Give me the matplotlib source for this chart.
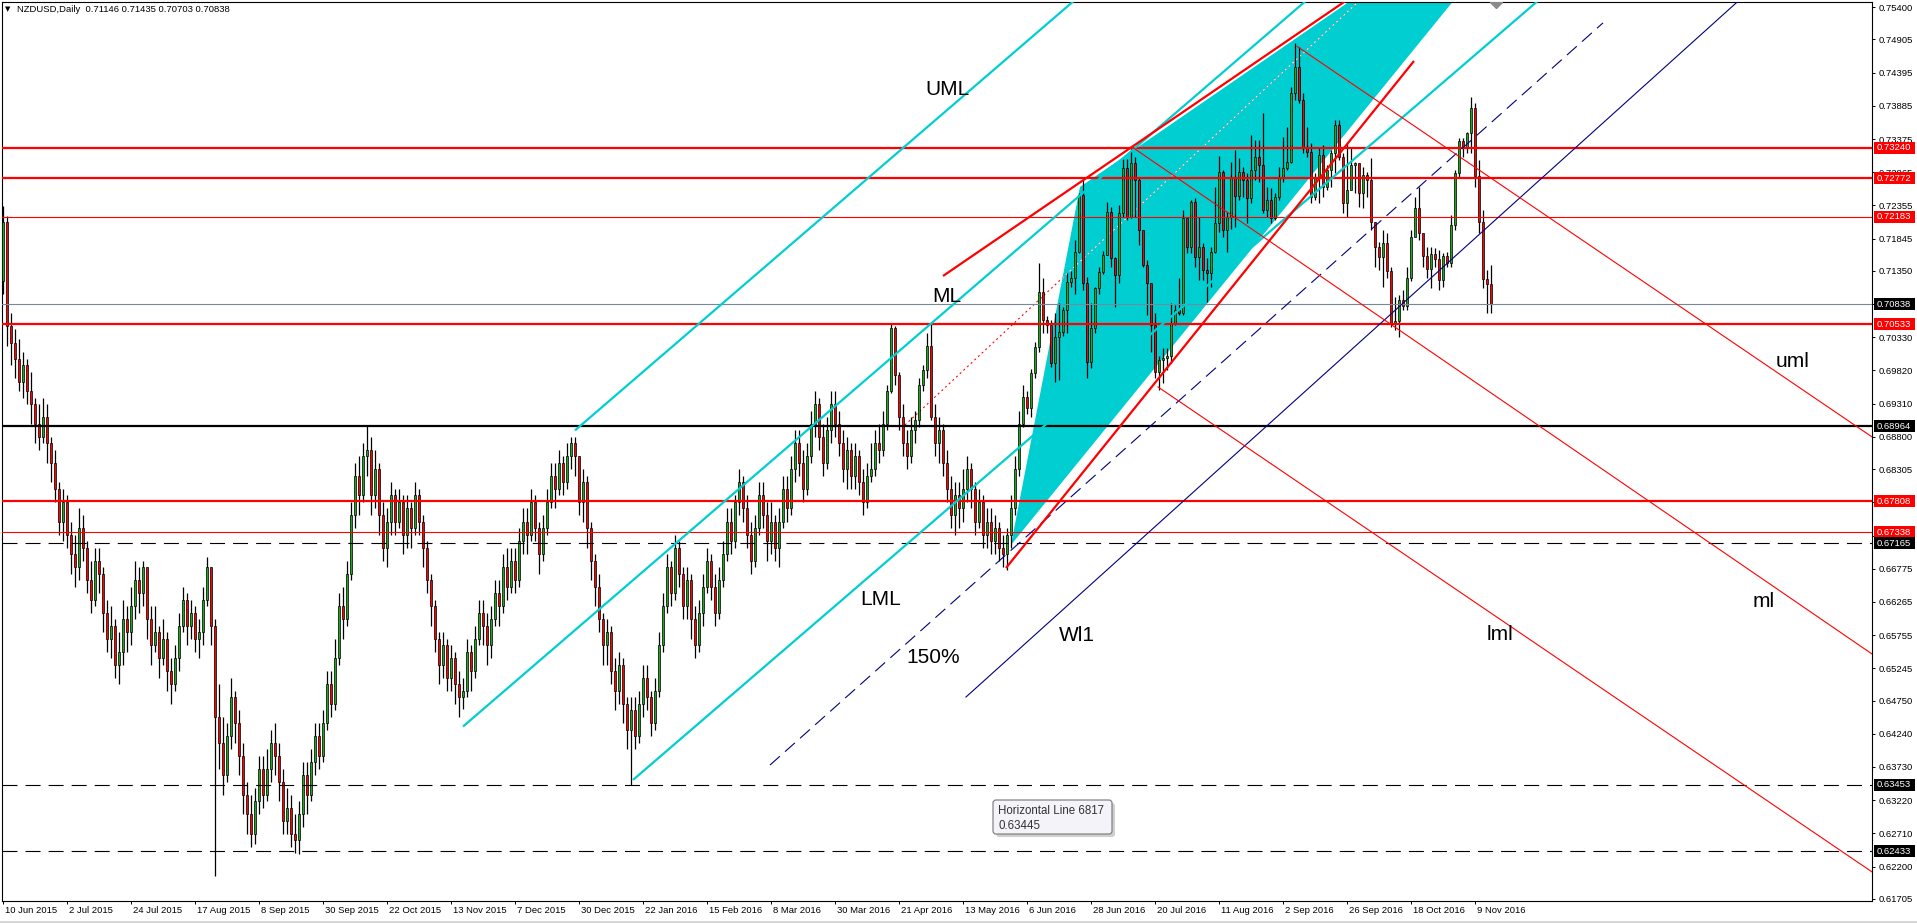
import matplotlib
matplotlib.use("Agg")
import matplotlib.pyplot as plt
import matplotlib.transforms as mtransforms
from matplotlib.patches import Polygon, Rectangle, FancyBboxPatch
from matplotlib.lines import Line2D
import numpy as np

plt.rcParams['font.family'] = ['Liberation Sans', 'DejaVu Sans']
plt.rcParams['lines.scale_dashes'] = False

# ---------------- data (prices in 1e-5 units) ----------------
first_open = 71200
closes = [
72100,70500,70250,70000,69650,69900,69500,69300,69000,68800,
69100,68700,68400,68000,67500,67800,67300,67000,66800,67400,
67100,66600,66300,66900,66700,66100,65700,65900,65300,65500,
66000,65800,66200,66600,66400,66800,66000,65600,65800,65400,
65700,65200,65000,65400,65900,66300,65900,66100,65700,65800,
66300,66800,65900,64500,64100,63600,64200,64800,64400,63900,
63300,63000,62700,63200,63700,63300,63700,64100,63900,63500,
62900,63100,62700,62600,63000,63600,63300,63800,64200,63900,
64400,65000,64700,65400,66200,66000,66700,67600,68200,67900,
68500,68600,67900,68300,67600,67100,67500,67900,67500,67800,
67300,67700,67400,67900,67500,67100,66600,66200,65700,65300,
65600,65100,65400,65000,64800,64900,65500,65200,65700,66100,
65900,65600,66000,66400,66200,66800,66500,66900,66600,67200,
67500,67300,67800,67400,67000,67400,67800,68200,68000,68400,
68100,68500,68700,68500,67800,68100,67400,66900,66500,66000,
65600,65800,65200,64900,65300,64700,64300,64600,64200,64700,
65100,64800,64400,64900,65600,66200,66800,66400,67100,66700,
66200,66600,66000,65600,66100,66500,66900,66500,66100,66600,
67000,67500,67200,67800,68100,67700,67300,66900,67400,67900,
67600,67200,67500,67100,67500,68000,67700,68300,68700,68400,
68000,68500,69000,69300,68800,68400,68900,69300,69000,68700,
68300,68600,68200,68500,68100,67800,68200,68300,68700,68600,
69000,69500,70468,69750,69110,68700,68500,68900,69059,69597,
69828,70190,69110,68700,68900,68400,68000,67600,67900,67700,
68000,68300,68000,67500,67800,67300,67500,67200,67400,67100,
67000,67300,67700,68300,69000,69420,69239,69776,70186,71030,
70596,70520,69930,70340,70417,70750,71185,71236,71646,72516,
71159,69956,70468,71083,71339,71595,72260,71543,71287,72235,
72926,72184,73003,72747,71978,71441,71159,70519,69802,69981,
70006,70050,70545,70750,70700,72158,71722,72414,71569,71722,
71364,71312,71646,72081,72875,71978,72184,72772,72500,72875,
72747,72470,72900,73105,72977,72286,72440,72158,72490,72798,
72926,73028,74078,74488,73976,73259,73182,72490,72798,73131,
72644,72900,73156,73592,73105,72388,72593,72977,73003,72541,
72823,72747,72107,71722,71569,71780,71354,70555,70580,70903,
70810,71236,71876,72311,71927,71584,71374,71610,71528,71210,
71579,71477,72061,72859,73346,73259,73464,73848,72808,72107,
71220,71146,70838]
highs = [
72350,72200,70700,70450,70300,70100,70000,69800,69400,69300,
69400,69300,68800,68600,68100,68000,67900,67500,67300,67700,
67600,67200,66900,67100,67100,66800,66300,66200,66000,65800,
66300,66200,66500,66900,66800,66900,66700,66200,66200,65900,
66000,65800,65400,65600,66100,66500,66400,66300,66200,66000,
66500,66960,66700,66000,65000,64500,64400,65100,64900,64600,
64100,63500,63300,63400,63900,63900,64000,64300,64400,64100,
63700,63400,63300,63000,63200,63800,63800,64000,64400,64400,
64600,65200,65200,65700,66400,66500,66900,67800,68400,68500,
68700,68964,68800,68600,68400,67800,67700,68100,68000,68000,
67900,67900,67800,68100,68000,67600,67200,66700,66300,65800,
65800,65700,65600,65500,65200,65100,65700,65600,65900,66300,
66300,66100,66200,66600,66600,67000,67100,67100,67100,67400,
67700,67700,68000,67900,67500,67600,68000,68400,68400,68600,
68500,68700,68800,68800,68500,68300,68200,67500,67000,66700,
66100,66000,65900,65400,65500,65400,64800,64800,64800,64900,
65300,65300,64900,65100,65800,66400,67000,66900,67300,67200,
66800,66800,66700,66200,66300,66700,67100,67000,66700,66800,
67200,67700,67700,67900,68300,68200,67900,67500,67600,68100,
68100,67800,67800,67600,67700,68200,68200,68500,68900,68900,
68600,68700,69200,69500,69400,69000,69100,69500,69500,69200,
68900,68800,68700,68700,68600,68300,68400,68700,68900,69000,
69200,69600,70540,70500,69800,69300,68900,69100,69200,69700,
69900,70390,70545,69300,69100,69000,68600,68200,68100,68100,
68300,68500,68400,68100,68000,67900,67700,67700,67600,67500,
67300,67400,67900,68500,69200,69600,69500,69850,70265,71466,
71236,70650,70600,70700,70850,70800,71312,71350,71825,72542,
72747,71250,70852,71108,71415,71650,72414,72337,71569,72363,
73064,73064,73260,73105,72800,71978,71517,71006,70698,70050,
70160,70160,70852,70826,71236,72286,72132,72440,72465,72184,
71773,71543,71722,72644,73120,72900,72260,73028,73208,73080,
72952,72850,73440,73360,73360,73770,72644,72620,72540,72952,
73412,73566,74180,74846,74795,74078,73566,73320,72850,73259,
73284,72977,73208,73668,73668,73156,73310,73259,73028,73003,
72952,72875,73079,72056,71799,71978,71927,71415,70954,70980,
71057,71415,71978,72490,72644,71927,71722,71722,71697,71671,
71620,71646,72209,72900,73387,73387,73490,74027,73925,73054,
72286,71364,71435]
lows = [
71000,70200,69900,69700,69500,69400,69300,69000,68700,68600,
68700,68400,68100,67800,67300,67200,67100,66700,66500,66600,
66900,66400,66100,66200,66400,65800,65500,65400,65100,65000,
65300,65500,65600,66000,66100,66200,65700,65300,65500,65100,
65300,64900,64700,64900,65200,65800,65600,65700,65500,65400,
65600,66200,65600,62050,63700,63300,63500,64000,64100,63600,
63000,62700,62500,62550,63000,63100,63200,63500,63600,63200,
62700,62700,62500,62400,62390,62800,63000,63200,63600,63700,
63800,64300,64500,64600,65300,65700,65900,66600,67400,67600,
67800,68200,67600,67700,67300,66900,66800,67300,67300,67400,
67000,67100,67100,67300,67300,66800,66400,65900,65500,65000,
65100,64900,64900,64700,64500,64620,64800,64900,65100,65600,
65600,65300,65400,65900,65900,66100,66300,66400,66400,66500,
67000,67000,67200,67200,66700,66900,67300,67700,67700,67900,
67900,68000,68300,68200,67600,67500,67100,66600,66200,65800,
65300,65300,65000,64600,64700,64400,64000,63453,64000,64100,
64500,64600,64200,64300,64800,65500,66100,66200,66300,66500,
66000,66000,65700,65400,65500,65900,66400,66300,65900,66000,
66500,66900,67000,67100,67600,67500,67100,66700,66800,67300,
67400,66900,67000,66900,66800,67400,67500,67600,68100,68200,
67800,67900,68400,68800,68600,68200,68300,68700,68800,68500,
68100,68000,68000,68000,67900,67600,67700,68100,68200,68400,
68500,68900,69470,69600,68900,68500,68300,68400,68700,68950,
69500,69700,69060,68500,68400,68200,67800,67400,67300,67400,
67500,67800,67700,67300,67400,67100,67100,67000,67000,66900,
66800,66760,67100,67600,68200,68950,69150,69100,69700,70100,
70391,70390,69880,69650,69680,70350,70391,71100,71000,71620,
71057,69700,69860,70391,71000,71300,71620,71415,70800,71160,
72184,72133,72160,72184,71748,71415,70672,70109,69700,69521,
69623,69830,69930,70520,70672,70672,71620,71620,71415,71210,
71210,70877,71108,71620,71950,71870,71640,72000,72030,72440,
72490,72080,72400,72750,72720,72235,72184,72080,72130,72440,
72720,72900,73003,73976,73925,73156,73105,72388,72440,72388,
72490,72600,72644,72850,73054,72235,72184,72644,72541,72337,
72312,72490,71978,71415,71364,71108,71236,70493,70442,70340,
70750,70750,71200,71876,71825,71415,71236,71083,71415,71057,
71108,71415,71415,71978,72772,73105,73156,73156,72644,71927,
71083,70698,70703]

date_labels = ["10 Jun 2015", "2 Jul 2015", "24 Jul 2015", "17 Aug 2015", "8 Sep 2015",
               "30 Sep 2015", "22 Oct 2015", "13 Nov 2015", "7 Dec 2015", "30 Dec 2015",
               "22 Jan 2016", "15 Feb 2016", "8 Mar 2016", "30 Mar 2016", "21 Apr 2016",
               "13 May 2016", "6 Jun 2016", "28 Jun 2016", "20 Jul 2016", "11 Aug 2016",
               "2 Sep 2016", "26 Sep 2016", "18 Oct 2016", "9 Nov 2016"]
date_bars = [16 * i for i in range(len(date_labels))]

ytick_vals = [0.75400, 0.74905, 0.74395, 0.73885, 0.73375, 0.72865, 0.72355, 0.71845,
              0.71350, 0.70840, 0.70330, 0.69820, 0.69310, 0.68800, 0.68305, 0.67795,
              0.67285, 0.66775, 0.66265, 0.65755, 0.65245, 0.64750, 0.64240, 0.63730,
              0.63220, 0.62710, 0.62200, 0.61705]
# scale labels fully hidden behind price boxes in the reference
ytick_hidden = [0.70840, 0.67795, 0.67285]

# horizontal lines: price, colour, width, style, label box colour
hl_prices = [0.73240, 0.72772, 0.72183, 0.70533, 0.68964, 0.67808, 0.67338, 0.67165, 0.63453, 0.62433, 0.70838]
hl_colors = ['#ff0000', '#ff0000', '#ff0000', '#ff0000', '#000000', '#ff0000', '#ff0000', '#000000', '#000000', '#000000', '#778899']
hl_widths = [1.6, 1.6, 0.8, 1.6, 1.6, 1.6, 0.8, 0.8, 0.8, 0.8, 0.8]
hl_dashed = [False, False, False, False, False, False, False, True, True, True, False]
hl_box = ['#ff0000', '#ff0000', '#ff0000', '#ff0000', '#000000', '#ff0000', '#ff0000', '#000000', '#000000', '#000000', '#000000']

# Andrews pitchfork pivots (bar, price)
pf_A = (115.0, 0.6435)
pf_B = (143.0, 0.6890)
pf_C = (157.5, 0.6353)

# descending red fork (start bar, start price) and price at right edge
rf_start_b = [323.5, 282.25, 288.75]
rf_start_p = [0.74800, 0.73254, 0.69567]
rf_end_p = [0.68800, 0.65465, 0.62117]

# trend lines: (b1, p1, b2, p2)
red_upper = (235.0, 0.71272, 336.0, 0.75512)      # ray
red_lower = (250.75, 0.66786, 352.75, 0.74575)    # segment
red_dotted = (225.5, 0.68983, 339.25, 0.75510)    # ray
blue_dashed = (191.75, 0.63759, 400.0, 0.75160)   # segment
blue_solid = (240.75, 0.64804, 434.25, 0.75520)   # segment

fill_b = [252.0, 269.25, 395.3]
fill_p = [0.6714, 0.7264, 0.7797]

labels_text = ['UML', 'ML', 'LML', '150%', 'Wl1', 'uml', 'ml', 'lml']
labels_b = [230.5, 232.25, 214.25, 225.75, 264.0, 443.25, 437.5, 371.0]
labels_p = [0.74053, 0.70872, 0.66218, 0.65325, 0.65664, 0.69874, 0.66188, 0.65679]

# ---------------- figure ----------------
W, H = 1917, 923
fig = plt.figure(figsize=(W / 100, H / 100), dpi=100)
fig.patch.set_facecolor('white')
AX_L, AX_R, AX_T, AX_B = 2, 1872, 2, 901
ax = fig.add_axes([AX_L / W, (H - AX_B) / H, (AX_R - AX_L) / W, (AX_B - AX_T) / H])
XMIN, XMAX = -0.25, 467.25
YMIN, YMAX = 0.61670, 0.75481
ax.set_xlim(XMIN, XMAX)
ax.set_ylim(YMIN, YMAX)
for s in ax.spines.values():
    s.set_color('black')
    s.set_linewidth(0.8)

CYAN = '#00CED1'
XEND = 480.0

def ext(b1, p1, b2, p2, bend):
    k = (p2 - p1) / (b2 - b1)
    return [b1, bend], [p1, p1 + k * (bend - b1)]

# cyan filled triangle
poly = Polygon(list(zip(fill_b, fill_p)), closed=True, fc=CYAN, ec='none', zorder=1)
ax.add_patch(poly)

# dotted red line (white inside fill)
xs, ys = ext(*red_dotted, XEND)
ax.plot(xs, ys, color='#ff0000', lw=0.8, dashes=(1.4, 2.2), zorder=1.5)
lw_, = ax.plot(xs, ys, color='white', lw=0.8, dashes=(1.4, 2.2), zorder=1.6)
lw_.set_clip_path(poly)

# candles
c = np.array(closes) / 1e5
o = np.array([first_open] + closes[:-1]) / 1e5
h = np.array(highs) / 1e5
l = np.array(lows) / 1e5
idx = np.arange(len(c))
top = np.maximum(o, c)
bot = np.minimum(o, c)
ax.vlines(idx, np.minimum(l, bot), np.maximum(h, top), color='black', lw=0.9, zorder=3)
bh = np.maximum(top - bot, 0.00012)
up = c >= o
ax.bar(idx[up], bh[up], bottom=bot[up], width=0.72, color='#1fa81f', edgecolor='black', linewidth=0.5, zorder=4)
ax.bar(idx[~up], bh[~up], bottom=bot[~up], width=0.72, color='#ff0000', edgecolor='black', linewidth=0.5, zorder=4)

# horizontal lines
for p, col, w, d in zip(hl_prices, hl_colors, hl_widths, hl_dashed):
    ln = ax.axhline(p, color=col, lw=w, zorder=5)
    if d:
        ln.set_dashes((10.8, 5.8))

# Andrews pitchfork
mid_b = (pf_B[0] + pf_C[0]) / 2
mid_p = (pf_B[1] + pf_C[1]) / 2
k_pf = (mid_p - pf_A[1]) / (mid_b - pf_A[0])
for (b0, p0) in [pf_A, pf_B, pf_C]:
    ax.plot([b0, XEND], [p0, p0 + k_pf * (XEND - b0)], color=CYAN, lw=1.6, zorder=5,
            solid_capstyle='butt')

# blue lines
ax.plot([blue_dashed[0], blue_dashed[2]], [blue_dashed[1], blue_dashed[3]], color='#000080',
        lw=0.8, dashes=(9.5, 5.0), zorder=5)
ax.plot([blue_solid[0], blue_solid[2]], [blue_solid[1], blue_solid[3]], color='#000080',
        lw=0.8, zorder=5)

# red thick lines
xs, ys = ext(*red_upper, XEND)
ax.plot(xs, ys, color='#ff0000', lw=1.6, zorder=6, solid_capstyle='butt')
ax.plot([red_lower[0], red_lower[2]], [red_lower[1], red_lower[3]], color='#ff0000', lw=1.6,
        zorder=6, solid_capstyle='butt')

# descending thin red fork
for b0, p0, p1 in zip(rf_start_b, rf_start_p, rf_end_p):
    ax.plot([b0, XMAX], [p0, p1], color='#ff0000', lw=0.8, zorder=6)

# gray anchor marker at top
ax.plot([373.25], [YMAX], marker='D', ms=6, color='#8a8a8a', zorder=7, clip_on=True)

# text labels
for t, b, p in zip(labels_text, labels_b, labels_p):
    ax.text(b, p, t, fontsize=15, va='baseline', ha='left', color='black', zorder=8)

# axes ticks
ax.yaxis.tick_right()
ax.set_yticks(ytick_vals)
ax.set_yticklabels(['' if v in ytick_hidden else f'{v:.5f}' for v in ytick_vals], fontsize=6.8)
ax.tick_params(axis='y', direction='out', length=2.2, width=0.7, pad=2.6, colors='black')
ax.set_xticks(date_bars)
ax.tick_params(axis='x', direction='out', length=2.5, width=0.7, labelbottom=False)
for b, t in zip(date_bars, date_labels):
    ax.annotate(t, xy=(b, 0), xycoords=ax.get_xaxis_transform(), xytext=(1.5, -7.0),
                textcoords='offset points', ha='left', va='center', fontsize=6.8,
                annotation_clip=False)

# price boxes on the right scale
ppx = (YMAX - YMIN) / (AX_B - AX_T)
btr = mtransforms.blended_transform_factory(fig.transFigure, ax.transData)
for p, bc in zip(hl_prices, hl_box):
    r = Rectangle((1874 / W, p - 6 * ppx), 41 / W, 12 * ppx, transform=btr, fc=bc, ec='none',
                  zorder=10, clip_on=False)
    ax.add_patch(r)
    ax.text(1877 / W, p, f'{p:.5f}', transform=btr, fontsize=6.8, color='white', ha='left',
            va='center', zorder=11, clip_on=False)

# header
fig.text(5 / W, 1 - 9 / H, '\u25BC', fontsize=5, family='DejaVu Sans', va='center', ha='left')
fig.text(17 / W, 1 - 9 / H, 'NZDUSD,Daily  0.71146 0.71435 0.70703 0.70838', fontsize=6.8,
         va='center', ha='left', color='black')

# tooltip
idt = mtransforms.IdentityTransform()
shadow = FancyBboxPatch((996, H - 837), 119, 34, boxstyle='round,pad=0,rounding_size=3',
                        transform=idt, fc='#b0b0b0', ec='none', alpha=0.6, zorder=20)
fig.add_artist(shadow)
tip = FancyBboxPatch((993, H - 834), 119, 34, boxstyle='round,pad=0,rounding_size=3',
                     transform=idt, fc='#f3f3f9', ec='#767676', lw=0.8, zorder=21)
fig.add_artist(tip)
fig.text(998 / W, 1 - 811 / H, 'Horizontal Line 6817', fontsize=8.3, color='#333333',
         va='center', ha='left', zorder=22)
fig.text(998 / W, 1 - 826 / H, '0.63445', fontsize=8.3, color='#333333', va='center',
         ha='left', zorder=22)

# bottom strip line
fig.add_artist(Line2D([0, 1], [0.6 / H, 0.6 / H], transform=fig.transFigure, color='#d0d0d0', lw=1.2))

fig.savefig('out.png', dpi=100, facecolor='white')
